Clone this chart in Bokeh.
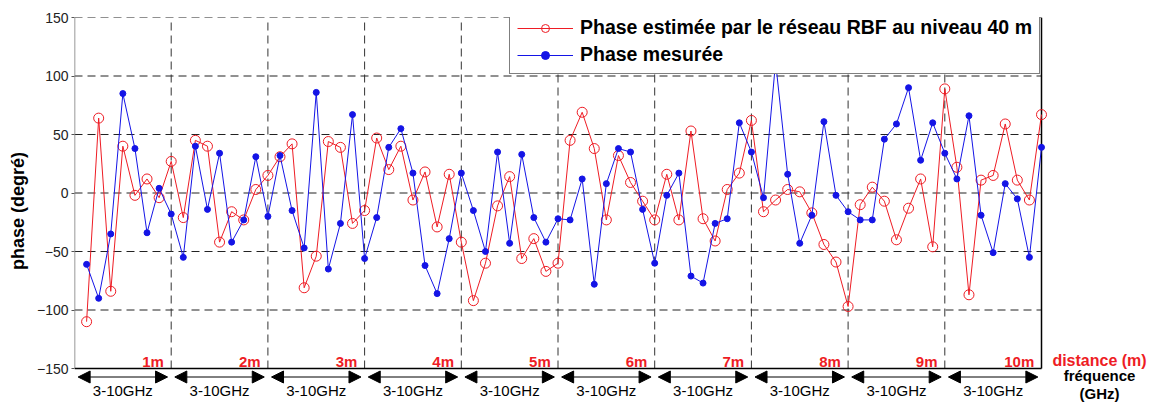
from bokeh.plotting import figure
from bokeh.models import Range1d, FixedTicker, Label, Arrow, NormalHead
from bokeh.embed import file_html
from bokeh.resources import INLINE

# sample index (8 frequency samples per distance step)
sample = list(range(1, 81))

phase_estimee = [
    -110, 64, -84, 40, -2, 12, -4, 27,
    -21, 45, 40, -42, -16, -23, 3, 15,
    31, 42, -81, -54, 44, 39, -26, -15,
    47, 20, 40, -6, 18, -29, 16, -42,
    -92, -60, -11, 14, -56, -39, -67, -60,
    45, 69, 38, -23, 32, 9, -7, -23,
    16, -23, 53, -22, -41, 3, 17, 62,
    -16, -6, 3, 1, -17, -44, -59, -97,
    -10, 5, -7, -40, -13, 12, -46, 89,
    22, -87, 11, 15, 59, 11, -6, 67,
]

phase_mesuree = [
    -61, -90, -35, 85, 38, -34, 4, -18,
    -55, 40, -14, 34, -42, -23, 31, -20,
    32, -15, -47, 86, -65, -26, 67, -56,
    -21, 39, 55, 17, -62, -86, -39, 17,
    -15, -50, 35, -43, 33, -21, -42, -22,
    -23, 12, -78, 8, 38, 35, -14, -60,
    -2, 17, -71, -77, -26, -22, 60, 35,
    -4, 112, 16, -43, -19, 61, -2, -16,
    -23, -23, 46, 59, 90, 28, 60, 34,
    12, 66, -19, -51, 8, -5, -55, 39,
]

distance_labels = ["1m", "2m", "3m", "4m", "5m", "6m", "7m", "8m", "9m", "10m"]
freq_label = "3-10GHz"
y_ticks = [-150, -100, -50, 0, 50, 100, 150]
grid_y = [-100, -50, 0, 50, 100, 150]

RED = "#ee1c24"
BLUE = "#1414e6"
FONT = "Liberation Sans"
SEG = 8
N = 80
YMIN, YMAX = -150, 150

# page geometry (pixels)
W, H = 1152, 405
FL, FT = 74, 17            # frame left / top
AX_R, AX_B = 1041, 368     # where x=N and y=YMIN fall
FR, FB = 1150, 404         # frame right / bottom (extended to hold captions)
px_x = (AX_R - FL) / N
px_y = (AX_B - FT) / (YMAX - YMIN)
x_end = (FR - FL) / px_x
y_start = YMAX - (FB - FT) / px_y


def ypx(py):
    return YMAX - (py - FT) / px_y


def xpx(px):
    return (px - FL) / px_x


p = figure(width=W, height=H, output_backend="svg", toolbar_location=None,
           x_range=Range1d(0, x_end), y_range=Range1d(y_start, YMAX),
           x_axis_location=None,
           min_border_left=FL, min_border_right=W - FR,
           min_border_top=FT, min_border_bottom=H - FB)
p.outline_line_color = None
p.xgrid.visible = False
p.ygrid.visible = False

# y axis
ya = p.yaxis[0]
ya.ticker = FixedTicker(ticks=y_ticks)
ya.axis_label = "phase (degré)"
ya.axis_label_text_font = FONT
ya.axis_label_text_font_style = "bold"
ya.axis_label_text_font_size = "18px"
ya.axis_label_text_color = "black"
ya.axis_label_standoff = 6
ya.major_label_text_font = FONT
ya.major_label_text_font_size = "14px"
ya.major_label_text_color = "#222222"
ya.major_label_standoff = 3
ya.major_tick_out = 3
ya.major_tick_in = 0
ya.minor_tick_out = 0
ya.minor_tick_in = 0
ya.axis_line_color = None
ya.major_tick_line_color = "#555555"

# grid lines (dashed)
p.segment(x0=[0] * len(grid_y), y0=grid_y, x1=[N] * len(grid_y), y1=grid_y,
          line_color="#222222", line_dash="8 5", line_width=1)
vx = [SEG * k for k in range(1, N // SEG)]
p.segment(x0=vx, y0=[YMIN] * len(vx), x1=vx, y1=[YMAX] * len(vx),
          line_color="#333333", line_dash="8 5", line_width=1)
# axis frame lines
p.segment(x0=[0], y0=[YMIN], x1=[0], y1=[YMAX], line_color="#777777", line_width=1.5)
p.segment(x0=[0], y0=[YMIN], x1=[N], y1=[YMIN], line_color="black", line_width=1.5)
p.segment(x0=[N], y0=[YMIN], x1=[N], y1=[YMAX], line_color="black", line_width=1.5)

# series
lab_est = "Phase estimée par le réseau RBF au niveau 40 m"
lab_mes = "Phase mesurée"
p.line(sample, phase_estimee, line_color=RED, line_width=1, legend_label=lab_est)
p.scatter(sample, phase_estimee, marker="circle", size=10, fill_color=None,
          line_color=RED, line_width=1, legend_label=lab_est)
p.line(sample, phase_mesuree, line_color=BLUE, line_width=1, legend_label=lab_mes)
p.scatter(sample, phase_mesuree, marker="circle", size=6, fill_color=BLUE,
          line_color=BLUE, legend_label=lab_mes)

lg = p.legend[0]
lg.location = (509 - FL, FB - 74)
lg.margin = 0
lg.padding = 7
lg.spacing = 4
lg.glyph_width = 56
lg.glyph_height = 20
lg.label_height = 20
lg.label_standoff = 7
lg.label_text_font = FONT
lg.label_text_font_style = "bold"
lg.label_text_font_size = "19.5px"
lg.label_text_color = "black"
lg.border_line_color = "black"
lg.border_line_width = 1
lg.background_fill_color = "white"
lg.background_fill_alpha = 1.0

# per-distance annotations
y_dist = ypx(361)
y_arrow = ypx(376.5)
y_freq = ypx(389.5)
for k, dl in enumerate(distance_labels):
    x0 = SEG * k
    x1 = SEG * (k + 1)
    p.add_layout(Label(x=x1 - 0.6, y=y_dist, text=dl, text_align="right",
                       text_baseline="middle", text_color=RED, text_font=FONT,
                       text_font_style="bold", text_font_size="15px"))
    p.add_layout(Arrow(x_start=x0 + 0.3, y_start=y_arrow, x_end=x1 - 0.3, y_end=y_arrow,
                       line_color="black", line_width=1,
                       start=NormalHead(size=12, fill_color="black", line_color="black"),
                       end=NormalHead(size=12, fill_color="black", line_color="black")))
    p.add_layout(Label(x=(x0 + x1) / 2, y=y_freq, text=freq_label, text_align="center",
                       text_baseline="middle", text_color="black", text_font=FONT,
                       text_font_size="15px"))

# right-side captions
xc = xpx(1099)
p.add_layout(Label(x=xc, y=ypx(359.5), text="distance (m)", text_align="center",
                   text_baseline="middle", text_color=RED, text_font=FONT,
                   text_font_style="bold", text_font_size="16px"))
p.add_layout(Label(x=xc, y=ypx(375), text="fréquence", text_align="center",
                   text_baseline="middle", text_color="black", text_font=FONT,
                   text_font_style="bold", text_font_size="15px"))
p.add_layout(Label(x=xc, y=ypx(392.5), text="(GHz)", text_align="center",
                   text_baseline="middle", text_color="black", text_font=FONT,
                   text_font_style="bold", text_font_size="15px"))

open("out.html", "w").write(file_html(p, INLINE))
